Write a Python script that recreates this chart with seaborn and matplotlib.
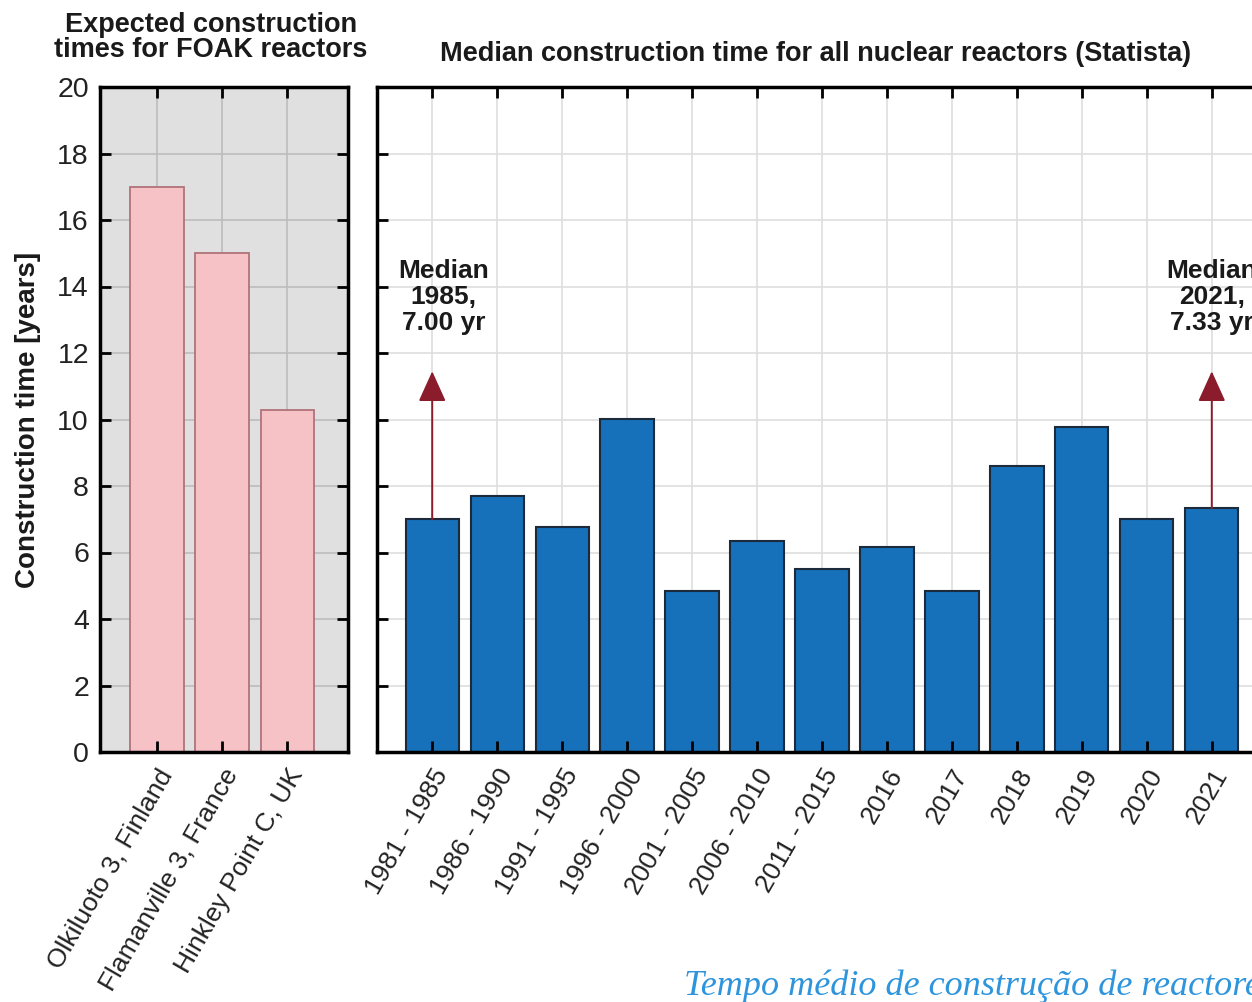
import matplotlib
matplotlib.use("Agg")
import matplotlib.pyplot as plt
import seaborn as sns
import pandas as pd

# FOAK reactors: expected construction time (years)
foak_sites = ["Olkiluoto 3, Finland", "Flamanville 3, France", "Hinkley Point C, UK"]
foak_years = [17.0, 15.0, 10.3]

# Median construction time for all nuclear reactors (years)
periods = ["1981 - 1985", "1986 - 1990", "1991 - 1995", "1996 - 2000",
           "2001 - 2005", "2006 - 2010", "2011 - 2015", "2016", "2017",
           "2018", "2019", "2020", "2021"]
median_years = [7.00, 7.70, 6.78, 10.02, 4.85, 6.36, 5.51, 6.18, 4.85,
                8.60, 9.77, 7.00, 7.33]

# Highlighted medians (category, year shown in the note)
note_periods = ["1981 - 1985", "2021"]
note_labels = ["1985", "2021"]

y_ticks = [0, 2, 4, 6, 8, 10, 12, 14, 16, 18, 20]

sns.set_theme(style="white")
plt.rcParams["font.family"] = ["Liberation Sans", "DejaVu Sans"]

FS = 19
fig = plt.figure(figsize=(12.52, 10.02), dpi=100)

ax_l = fig.add_axes([100 / 1252, 1 - 752 / 1002, 248 / 1252, 665 / 1002])
ax_r = fig.add_axes([377 / 1252, 1 - 752 / 1002, 890 / 1252, 665 / 1002])

df_l = pd.DataFrame({"site": foak_sites, "years": foak_years})
df_r = pd.DataFrame({"period": periods, "years": median_years})

sns.barplot(data=df_l, x="site", y="years", ax=ax_l, color="#F7C2C6",
            saturation=1, width=0.82, edgecolor="#B0737A", linewidth=1.3)
sns.barplot(data=df_r, x="period", y="years", ax=ax_r, color="#1670BA",
            saturation=1, width=0.82, edgecolor="#1C2B3C", linewidth=1.5)

ax_l.set_facecolor("#E1E0E0")
ax_r.set_facecolor("white")

ax_l.set_xlim(-0.87, 2.93)
ax_r.set_xlim(-0.85, 12.85)

for ax, grid_col in ((ax_l, "#BDBDBD"), (ax_r, "#DEDEDE")):
    ax.set_ylim(0, 20)
    ax.set_yticks(y_ticks)
    for yv in y_ticks[1:-1]:
        ax.axhline(yv, color=grid_col, lw=1.2, zorder=0.5)
    for xv in ax.get_xticks():
        ax.axvline(xv, color=grid_col, lw=1.2, zorder=0.5)
    ax.set_axisbelow(False)
    ax.tick_params(direction="in", length=8, width=2, color="black",
                   top=True, right=True, bottom=True, left=True,
                   labelcolor="#222222")
    ax.tick_params(axis="x", pad=9, labelsize=FS)
    ax.tick_params(axis="y", pad=8, labelsize=20.5)
    for sp in ax.spines.values():
        sp.set_visible(True)
        sp.set_color("black")
        sp.set_linewidth(2.5)
    ax.set_xlabel("")
    ax.set_ylabel("")
    for lab in ax.get_xticklabels():
        lab.set_rotation(60)
        lab.set_ha("right")
        lab.set_va("top")
        lab.set_rotation_mode("anchor")

ax_r.tick_params(axis="y", labelleft=False)
ax_l.set_ylabel("Construction time [years]", fontsize=20, fontweight="bold",
                labelpad=12, color="#1a1a1a")

# Median notes with arrows
arrow_col = "#8A1C2C"
note_shift = [0.17, 0.0]
for cat, yr, dx in zip(note_periods, note_labels, note_shift):
    i = periods.index(cat)
    val = median_years[i]
    ax_r.annotate("", xy=(i, 11.45), xytext=(i, val),
                  arrowprops=dict(arrowstyle="-|>,head_length=0.95,head_width=0.43",
                                  mutation_scale=20, color=arrow_col, lw=1.4,
                                  shrinkA=0, shrinkB=0), zorder=3)
    ax_r.text(i + dx, 12.53, f"Median\n{yr},\n{val:.2f} yr", ha="center",
              va="bottom", fontsize=FS, fontweight="bold", color="#1a1a1a",
              linespacing=1.12, zorder=3, clip_on=False)

fig.text(211 / 1252, 1 - 63 / 1002,
         "Expected construction\ntimes for FOAK reactors", ha="center",
         va="bottom", fontsize=19.5, fontweight="bold", color="#1a1a1a",
         linespacing=0.95)
fig.text(816 / 1252, 1 - 67 / 1002,
         "Median construction time for all nuclear reactors (Statista)",
         ha="center", va="bottom", fontsize=19.5, fontweight="bold",
         color="#1a1a1a")

fig.text(684 / 1252, 7 / 1002, "Tempo médio de construção de reactores",
         ha="left", va="baseline", fontsize=26, style="italic",
         family=["Liberation Serif", "DejaVu Serif"], color="#2E95DD")

fig.savefig("out.png", dpi=100)
